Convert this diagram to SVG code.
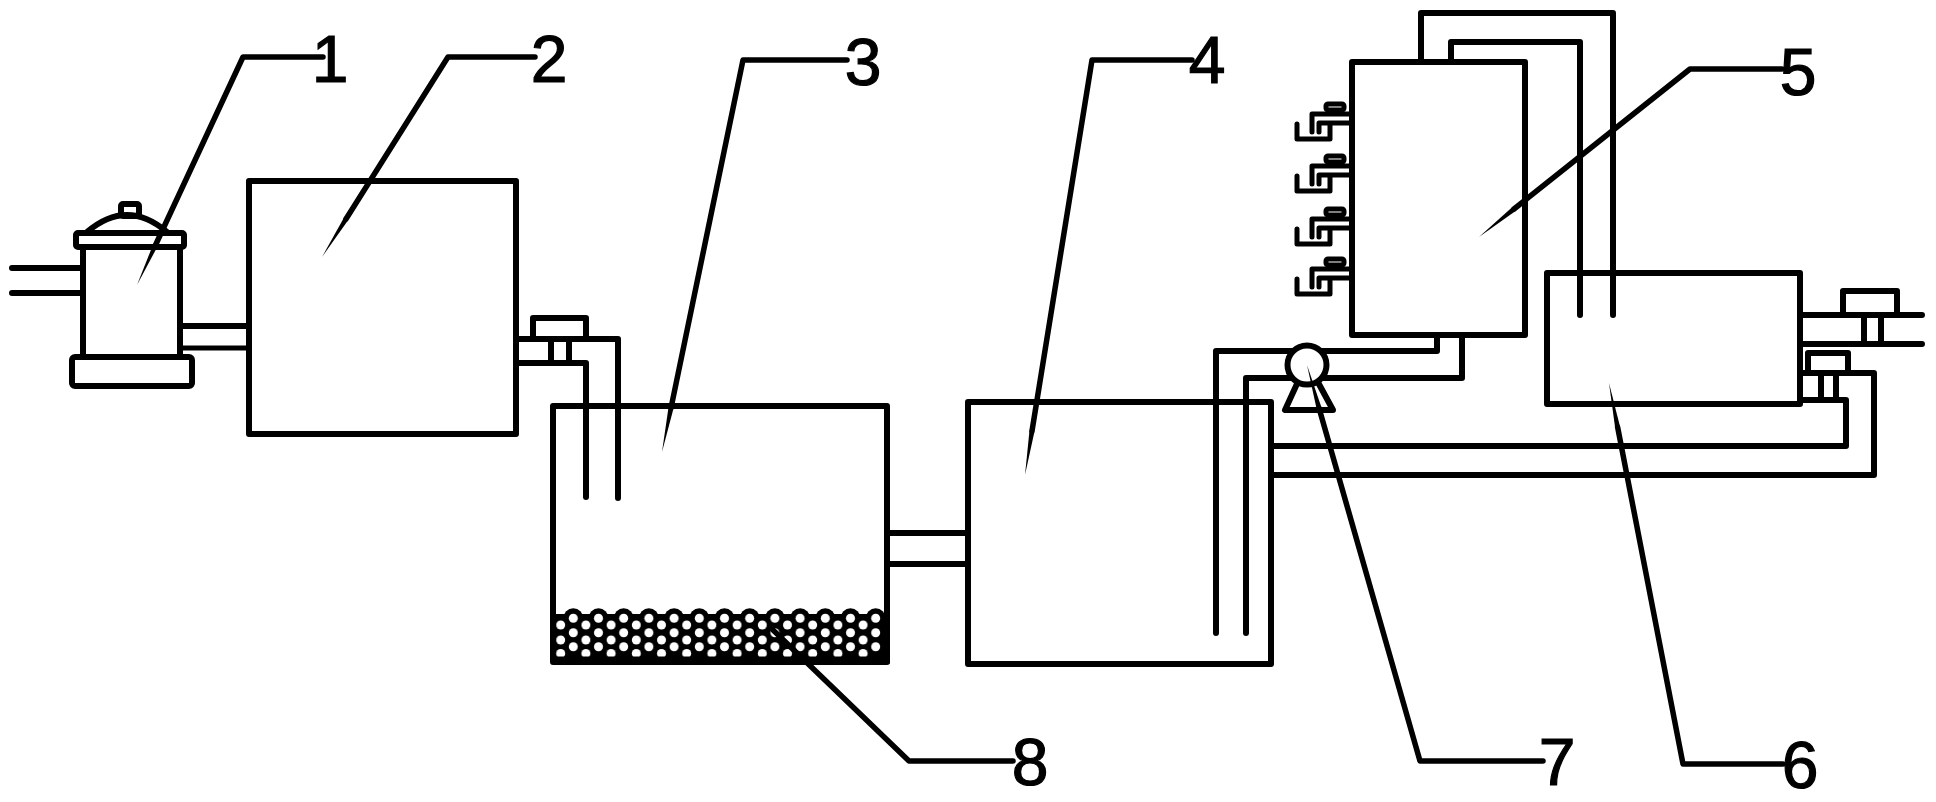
<svg xmlns="http://www.w3.org/2000/svg" width="1936" height="802" viewBox="0 0 1936 802">
<style>
.s{fill:none;stroke:#000;stroke-width:6;stroke-linecap:round;stroke-linejoin:round}
.w{fill:#fff;stroke:#000;stroke-width:6;stroke-linejoin:round}
.t{fill:none;stroke:#000;stroke-width:5;stroke-linecap:round;stroke-linejoin:round}
.l{fill:none;stroke:#000;stroke-width:5.5;stroke-linecap:round;stroke-linejoin:round}
.k{fill:#000;stroke:none}
text{font-family:"Liberation Sans",Arial,sans-serif;font-size:66px;fill:#000;stroke:#000;stroke-width:1.2;text-anchor:middle}
</style>
<defs>
<g id="faucet">
<rect class="t" x="1326" y="104" width="18" height="6" rx="2"/>
<path class="t" d="M1352,114H1312V132M1352,123H1319V132M1330,123V139H1297V124"/>
</g>
<pattern id="gravelDots" patternUnits="userSpaceOnUse" x="554.4" y="611" width="25.2" height="55">
<circle cx="18.9" cy="7.3" r="4.5" fill="#fff"/>
<circle cx="6.3" cy="14" r="4.5" fill="#fff"/>
<circle cx="18.9" cy="21.7" r="4.5" fill="#fff"/>
<circle cx="6.3" cy="29" r="4.5" fill="#fff"/>
<circle cx="18.9" cy="35.7" r="4.5" fill="#fff"/>
<circle cx="6.3" cy="42.5" r="4.5" fill="#fff"/>
</pattern>
<circle id="bump" cy="618.3" r="10" fill="#000"/>
</defs>
<rect width="1936" height="802" fill="#fff"/>
<g id="connectors">
<path class="s" d="M12,268H83M12,293H83"/>
<path class="s" d="M180,326H249"/>
<path class="t" d="M180,348H249"/>
<path class="s" d="M516,339H618V498M516,363H586V497M551,339V363M569,339V363"/>
<path class="s" d="M533,339V318H586V339"/>
<path class="s" d="M887,533H968M887,564H968"/>
<path class="s" d="M1216,633V351H1437V335M1246,633V378H1462V335"/>
<path class="s" d="M1271,446H1846V400H1800M1271,475H1874V373H1800M1821,373V400M1836,373V400"/>
<path class="s" d="M1808,373V353H1848V373"/>
<path class="s" d="M1800,315H1922M1800,344H1922M1864,315V344M1881,315V344"/>
<path class="s" d="M1843,315V291H1897V315"/>
<path class="s" d="M1421,62V13H1613V315M1451,62V42H1580V315"/>
</g>
<g id="node-1">
<path class="s" d="M87,232Q127,198 167,232"/>
<rect class="s" x="121" y="204" width="18" height="12" rx="2"/>
<rect class="w" x="76" y="233" width="108" height="14" rx="2"/>
<path class="s" d="M83,247V355M180,247V355"/>
<rect class="w" x="72" y="357" width="120" height="29" rx="3"/>
<text x="330" y="82">1</text>
</g>
<g id="node-2">
<rect class="s" x="249" y="181" width="267" height="253"/>
<text x="549" y="82">2</text>
</g>
<g id="node-3">
<rect class="s" x="553" y="406" width="334" height="256"/>
<text x="863" y="85">3</text>
</g>
<g id="node-8">
<g id="gravel">
<rect class="k" x="551" y="614" width="339" height="49.5"/>
<use href="#bump" x="573.3"/><use href="#bump" x="598.5"/><use href="#bump" x="623.7"/><use href="#bump" x="648.9"/>
<use href="#bump" x="674.1"/><use href="#bump" x="699.3"/><use href="#bump" x="724.5"/>
<use href="#bump" x="749.7"/><use href="#bump" x="774.9"/><use href="#bump" x="800.1"/>
<use href="#bump" x="825.3"/><use href="#bump" x="850.5"/><use href="#bump" x="875.7"/>
<rect fill="url(#gravelDots)" x="554.4" y="611" width="327.6" height="45.5"/>
</g>
<text x="1030" y="785">8</text>
</g>
<g id="node-4">
<rect class="s" x="968" y="402" width="303" height="262"/>
<text x="1207" y="83">4</text>
</g>
<g id="node-5">
<rect class="s" x="1352" y="62" width="173" height="273"/>
<use href="#faucet"/>
<use href="#faucet" y="52"/>
<use href="#faucet" y="105"/>
<use href="#faucet" y="155"/>
<text x="1798" y="95">5</text>
</g>
<g id="node-6">
<rect class="s" x="1547" y="273" width="253" height="131"/>
<text x="1800" y="788">6</text>
</g>
<g id="node-7">
<polygon class="w" points="1285,410 1333,410 1307,362"/>
<circle class="w" cx="1307" cy="365" r="19.5"/>
<text x="1557" y="785">7</text>
</g>
<g id="leaders">
<path class="l" d="M323,57H243L156,244"/><polygon class="k" points="153.7,243 158.3,245 137,285"/>
<path class="l" d="M535,57H448L346,219"/><polygon class="k" points="343.9,217.7 348.1,220.3 322,257"/>
<path class="l" d="M847,60H743L671,408"/><polygon class="k" points="668.5,407.5 673.5,408.5 662,452"/>
<path class="l" d="M1192,60H1092L1032,431"/><polygon class="k" points="1029.5,430.6 1034.5,431.4 1025,475"/>
<path class="l" d="M1782,69H1690L1514,209"/><polygon class="k" points="1512.4,207 1515.6,211 1479,237"/>
<path class="l" d="M1783,764H1683L1617.6,427"/><polygon class="k" points="1615.1,427.5 1620,426.5 1609,383"/>
<path class="l" d="M1543,761H1420L1319,408"/><polygon class="k" points="1316.6,408.7 1321.4,407.3 1307,365"/>
<path class="l" d="M1013,761H909L773,630"/>
</g>
</svg>
